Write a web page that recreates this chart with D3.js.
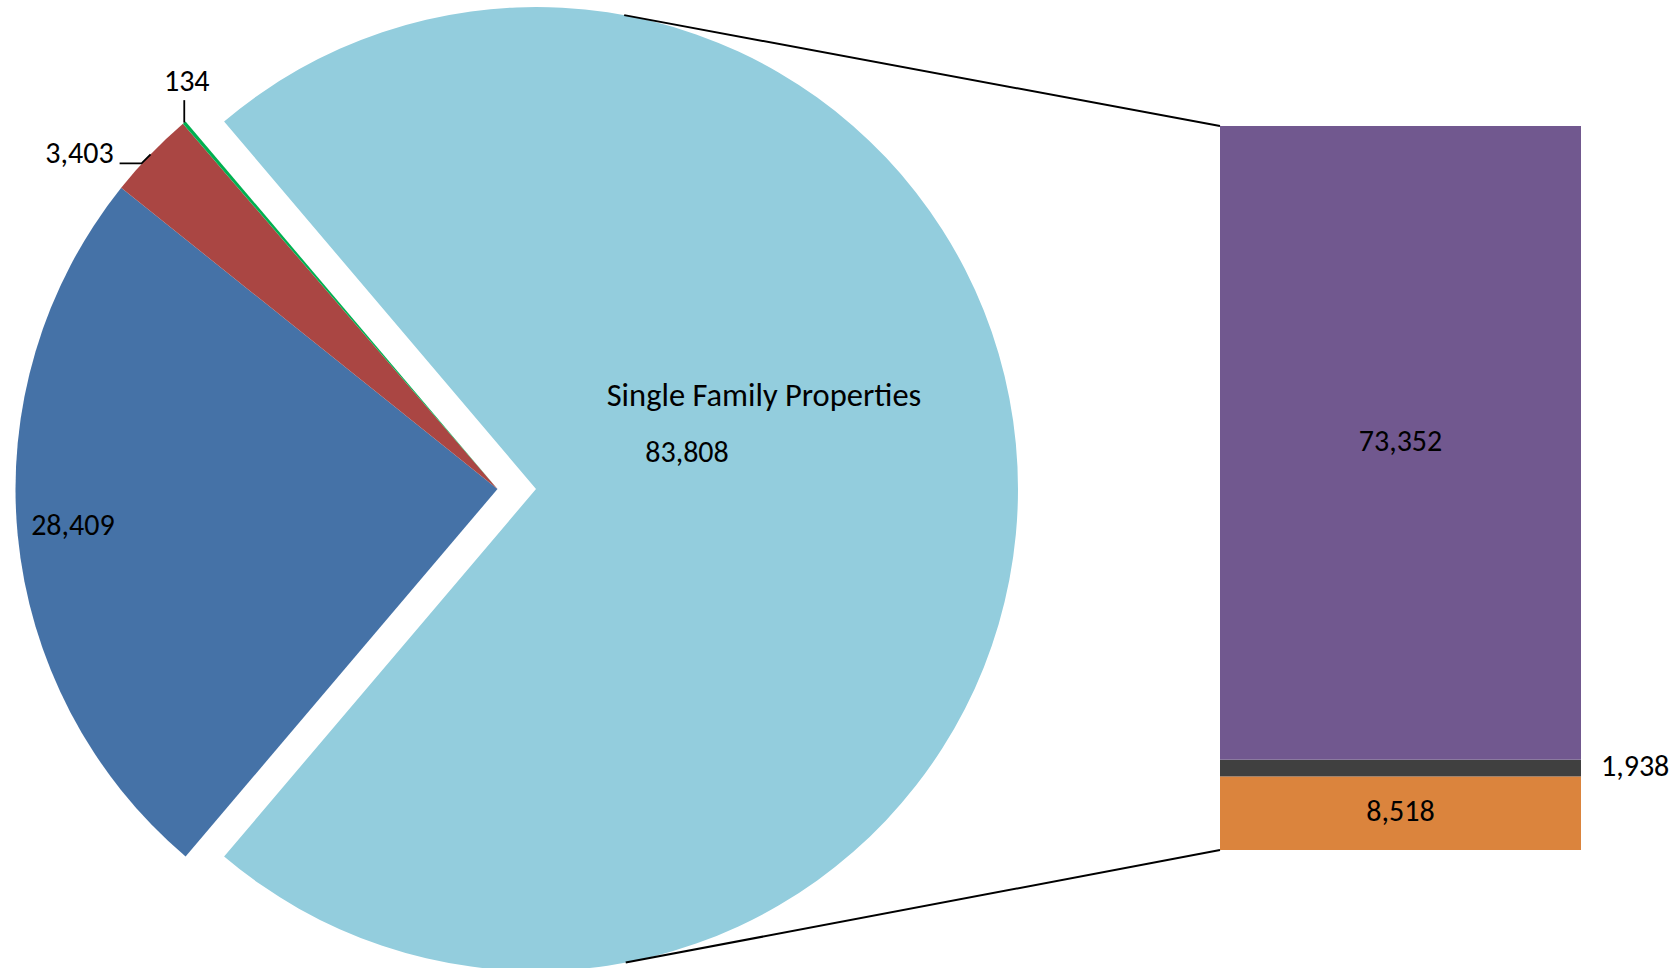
<!DOCTYPE html>
<html>
<head>
<meta charset="utf-8">
<script src="https://cdn.jsdelivr.net/npm/d3@7"></script>
<style>
  body { margin: 0; background: #fff; }
  svg text { font-family: Calibri, Carlito, Lato, sans-serif; font-size: 30px; fill: #000; }
  svg text.name { font-size: 32.5px; }
</style>
</head>
<body>
<div id="chart"></div>
<script>
// pie slices, clockwise starting with the exploded one
const pieCategories = ["Single Family Properties", "", "", ""];
const pieValues = [83808, 28409, 3403, 134];
const pieColors = ["#93CDDD", "#4572A7", "#AA4643", "#00B050"];

// breakdown of the exploded slice, bottom to top
const barValues = [8518, 1938, 73352];
const barColors = ["#DB843D", "#404040", "#71588F"];

const width = 1677, height = 968;
const cx = 497.5, cy = 489, radius = 482, explode = 38.5;
const barLeft = 1220, barRight = 1581, barTop = 126, barBottom = 850;
const fmt = d3.format(",");

const svg = d3.select("#chart").append("svg")
    .attr("width", width)
    .attr("height", height);

// ---- pie ----
const total = d3.sum(pieValues);
const start = Math.PI / 2 - Math.PI * pieValues[0] / total;
const pie = d3.pie().sort(null).value(d => d)
    .startAngle(start)
    .endAngle(start + 2 * Math.PI);
const arcs = pie(pieValues);
const arc = d3.arc().innerRadius(0).outerRadius(radius);

const mid = d => (d.startAngle + d.endAngle) / 2;
const polar = (a, r) => [r * Math.sin(a), -r * Math.cos(a)];
const shift = (d, i) => i === 0 ? polar(mid(d), explode) : [0, 0];

const pieG = svg.append("g").attr("transform", `translate(${cx},${cy})`);

pieG.selectAll("path.slice")
    .data(arcs)
    .join("path")
    .attr("class", "slice")
    .attr("d", arc)
    .attr("fill", (d, i) => pieColors[i])
    .attr("transform", (d, i) => `translate(${shift(d, i)})`);

// exploded slice: name + value
const s0 = shift(arcs[0], 0);
pieG.append("text")
    .attr("class", "name")
    .attr("x", s0[0] + 228).attr("y", s0[1] - 83)
    .attr("text-anchor", "middle")
    .text(pieCategories[0]);
pieG.append("text")
    .attr("x", s0[0] + 151).attr("y", s0[1] - 27)
    .attr("text-anchor", "middle")
    .text(fmt(pieValues[0]));

// large slice: inside end
const p1 = polar(mid(arcs[1]), radius * 0.885);
pieG.append("text")
    .attr("x", p1[0]).attr("y", p1[1] + 5.5)
    .attr("text-anchor", "middle")
    .text(fmt(pieValues[1]));

// small slices: outside with leader lines
const p2 = polar(mid(arcs[2]), radius);
pieG.append("path")
    .attr("d", d3.line()([p2, [p2[0] - 9, p2[1] + 9], [p2[0] - 31, p2[1] + 9]]))
    .attr("fill", "none").attr("stroke", "#000").attr("stroke-width", 1.8);
pieG.append("text")
    .attr("x", p2[0] - 37).attr("y", p2[1] + 9)
    .attr("text-anchor", "end")
    .text(fmt(pieValues[2]));

const p3 = polar(mid(arcs[3]), radius);
pieG.append("path")
    .attr("d", d3.line()([p3, [p3[0], p3[1] - 22.5]]))
    .attr("fill", "none").attr("stroke", "#000").attr("stroke-width", 1.8);
pieG.append("text")
    .attr("x", p3[0] + 2.5).attr("y", p3[1] - 32)
    .attr("text-anchor", "middle")
    .text(fmt(pieValues[3]));

// ---- bar of the exploded slice ----
const y = d3.scaleLinear().domain([0, d3.sum(barValues)]).range([barBottom, barTop]);
const x = d3.scaleBand().domain([pieCategories[0]]).range([barLeft, barRight]);

const cum = d3.cumsum(barValues);
const segs = barValues.map((v, i) => ({ v, y0: cum[i] - v, y1: cum[i], c: barColors[i] }));

svg.append("g").selectAll("rect")
    .data(segs)
    .join("rect")
    .attr("x", x(pieCategories[0]))
    .attr("width", x.bandwidth())
    .attr("y", d => y(d.y1))
    .attr("height", d => y(d.y0) - y(d.y1))
    .attr("fill", d => d.c);

svg.append("g").selectAll("text")
    .data(segs)
    .join("text")
    .each(function (d) {
        const h = y(d.y0) - y(d.y1);
        const yc = (y(d.y0) + y(d.y1)) / 2 + 8;
        const t = d3.select(this).attr("y", yc).text(fmt(d.v));
        if (h > 40) t.attr("x", x(pieCategories[0]) + x.bandwidth() / 2).attr("text-anchor", "middle");
        else t.attr("x", barRight + 20).attr("text-anchor", "start");
    });

// ---- series lines: tangents from bar corners to the exploded slice ----
const ec = [cx + s0[0], cy + s0[1]];
function tangent(p, sign) {
    const dx = p[0] - ec[0], dy = p[1] - ec[1];
    const a = Math.atan2(dy, dx) + sign * Math.acos(radius / Math.hypot(dx, dy));
    return [ec[0] + radius * Math.cos(a), ec[1] + radius * Math.sin(a)];
}
const topCorner = [barLeft, y(d3.sum(barValues))];
const botCorner = [barLeft, y(0)];
svg.append("path")
    .attr("d", d3.line()([tangent(topCorner, -1), topCorner]))
    .attr("stroke", "#000").attr("stroke-width", 2);
svg.append("path")
    .attr("d", d3.line()([tangent(botCorner, 1), botCorner]))
    .attr("stroke", "#000").attr("stroke-width", 2);
</script>
</body>
</html>
